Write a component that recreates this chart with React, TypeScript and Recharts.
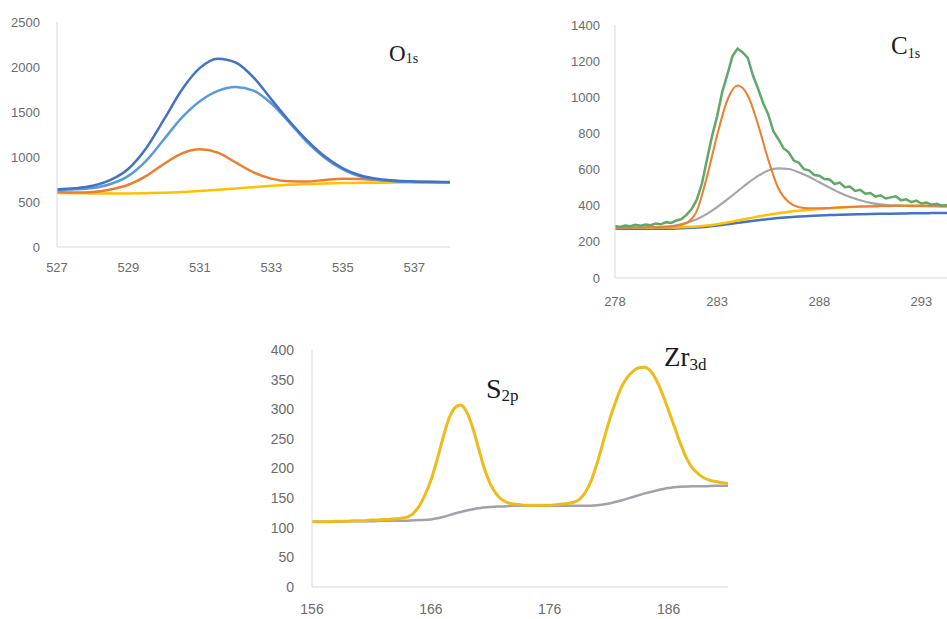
import { CartesianGrid, Line, LineChart, XAxis, YAxis } from "recharts";

// ---- O 1s panel ----
const o1sX = [
  527, 527.5, 528, 528.5, 529, 529.5, 530, 530.5, 531, 531.5, 532, 532.5, 533,
  533.5, 534, 534.5, 535, 535.5, 536, 536.5, 537, 537.5, 538,
];
const o1sEnvelope = [
  640, 652, 680, 745, 870, 1100, 1420, 1750, 1990, 2093, 2050, 1885, 1640, 1400,
  1185, 1005, 875, 795, 755, 737, 729, 725, 722,
];
const o1sPeakB = [
  635, 641, 656, 700, 790, 960, 1200, 1440, 1620, 1735, 1778, 1738, 1595, 1385,
  1165, 990, 862, 782, 746, 729, 723, 720, 718,
];
const o1sPeakA = [
  612, 606, 612, 640, 692, 790, 925, 1040, 1085, 1048, 940, 830, 760, 730, 728,
  745, 758, 755, 742, 732, 726, 722, 720,
];
const o1sBackground = [
  600, 598, 595, 594, 595, 598, 603, 610, 622, 635, 650, 665, 680, 692, 700, 706,
  710, 713, 715, 716, 716, 717, 718,
];
const o1sXTicks = [527, 529, 531, 533, 535, 537];
const o1sYTicks = [0, 500, 1000, 1500, 2000, 2500];

// ---- C 1s panel ----
const c1sRawX = [
  278, 278.25, 278.5, 278.75, 279, 279.25, 279.5, 279.75, 280, 280.25, 280.5,
  280.75, 281, 281.25, 281.5, 281.75, 282, 282.25, 282.5, 282.75, 283, 283.25,
  283.5, 283.75, 284, 284.25, 284.5, 284.75, 285, 285.25, 285.5, 285.75, 286,
  286.25, 286.5, 286.75, 287, 287.25, 287.5, 287.75, 288, 288.25, 288.5, 288.75,
  289, 289.25, 289.5, 289.75, 290, 290.25, 290.5, 290.75, 291, 291.25, 291.5,
  291.75, 292, 292.25, 292.5, 292.75, 293, 293.25, 293.5, 293.75, 294, 294.25,
];
const c1sRaw = [
  288, 282, 290, 286, 294, 289, 296, 292, 301, 297, 309, 305, 318, 326, 349,
  381, 432, 520, 655, 785, 895, 1030, 1125, 1228, 1270, 1248, 1218, 1122, 1048,
  968, 905, 812, 768, 718, 695, 650, 638, 602, 596, 570, 566, 548, 545, 520,
  528, 502, 506, 482, 488, 466, 470, 450, 458, 440, 446, 452, 430, 436, 420,
  428, 412, 418, 405, 410, 400, 404,
];
const c1sX = [
  278, 278.5, 279, 279.5, 280, 280.5, 281, 281.5, 282, 282.5, 283, 283.5, 284,
  284.5, 285, 285.5, 286, 286.5, 287, 287.5, 288, 288.5, 289, 289.5, 290, 290.5,
  291, 291.5, 292, 292.5, 293, 293.5, 294, 294.25,
];
const c1sPeakA = [
  278, 278, 279, 280, 281, 283, 288, 305, 370, 560, 790, 985, 1065, 1010, 850,
  655, 495, 420, 392, 386, 386, 388, 390, 393, 395, 397, 398, 399, 400, 400, 400,
  400, 400, 400,
];
const c1sPeakB = [
  276, 277, 278, 280, 282, 285, 292, 305, 325, 355, 392, 435, 480, 525, 565, 595,
  607, 603, 585, 560, 530, 500, 472, 448, 430, 416, 407, 402, 400, 398, 397, 396,
  395, 395,
];
const c1sShirley = [
  278, 278, 278, 278, 279, 279, 280, 282, 285, 290, 298, 307, 318, 329, 340, 350,
  358, 366, 372, 377, 382, 386, 390, 393, 395, 397, 398, 399, 400, 400, 400, 400,
  400, 400,
];
const c1sBaseline = [
  272, 272, 272, 272, 273, 273, 274, 276, 279, 284, 290, 297, 305, 313, 320, 326,
  332, 336, 340, 343, 346, 348, 350, 352, 353, 354, 355, 356, 357, 358, 358, 359,
  360, 360,
];
const c1sXTicks = [278, 283, 288, 293];
const c1sYTicks = [0, 200, 400, 600, 800, 1000, 1200, 1400];

// ---- S 2p / Zr 3d panel ----
const szX = [
  156, 156.5, 157, 157.5, 158, 158.5, 159, 159.5, 160, 160.5, 161, 161.5, 162,
  162.5, 163, 163.5, 164, 164.5, 165, 165.5, 166, 166.5, 167, 167.5, 168, 168.5,
  169, 169.5, 170, 170.5, 171, 171.5, 172, 172.5, 173, 173.5, 174, 174.5, 175,
  175.5, 176, 176.5, 177, 177.5, 178, 178.5, 179, 179.5, 180, 180.5, 181, 181.5,
  182, 182.5, 183, 183.5, 184, 184.5, 185, 185.5, 186, 186.5, 187, 187.5, 188,
  188.5, 189, 189.5, 190, 190.5, 191,
];
const szSpectrum = [
  110, 110, 110, 110, 111, 111, 111, 112, 112, 112, 113, 113, 114, 114, 115, 116,
  118, 124, 136, 155, 180, 213, 250, 283, 302, 307, 296, 270, 235, 200, 174, 157,
  147, 142, 140, 139, 138, 138, 138, 138, 138, 139, 140, 141, 143, 148, 160, 180,
  210, 245, 280, 310, 336, 353, 364, 370, 371, 364, 348, 325, 298, 270, 242, 218,
  201, 191, 184, 180, 178, 176, 175,
];
const szBgX = [
  156, 157, 158, 159, 160, 161, 162, 163, 164, 165, 166, 167, 168, 169, 170, 171,
  172, 173, 174, 175, 176, 177, 178, 179, 180, 181, 182, 183, 184, 185, 186, 187,
  188, 189, 190, 191,
];
const szBackground = [
  110, 110, 110, 111, 111, 111, 112, 112, 112, 113, 114, 118, 124, 129, 133, 135,
  136, 137, 137, 137, 137, 137, 137, 137, 138, 141, 146, 152, 158, 163, 167, 169,
  170, 170, 171, 171,
];
const szXTicks = [156, 166, 176, 186];
const szYTicks = [0, 50, 100, 150, 200, 250, 300, 350, 400];

const zip = (xs: number[], ys: number[]) => xs.map((x, i) => ({ x, y: ys[i] }));

const axisColor = "#d9d9d9";
const tickStyle = { fill: "#6b6b6b", fontFamily: "Liberation Sans, Arial, sans-serif" };

interface PanelProps {
  left: number;
  top: number;
  width: number;
  height: number;
  yAxisWidth: number;
  xAxisHeight: number;
  marginTop: number;
  marginRight: number;
  xDomain: [number, number];
  yDomain: [number, number];
  xTicks: number[];
  yTicks: number[];
  fontSize: number;
  yTickMargin: number;
  xTickMargin: number;
  series: { data: { x: number; y: number }[]; color: string; width: number; curve?: "monotone" | "linear" }[];
}

function Panel(p: PanelProps) {
  return (
    <div style={{ position: "absolute", left: p.left, top: p.top }}>
      <LineChart
        width={p.width}
        height={p.height}
        margin={{ top: p.marginTop, right: p.marginRight, left: 0, bottom: 0 }}
      >
        <CartesianGrid horizontal={false} vertical={false} />
        <XAxis
          type="number"
          dataKey="x"
          domain={p.xDomain}
          ticks={p.xTicks}
          interval={0}
          allowDataOverflow
          height={p.xAxisHeight}
          tickSize={0}
          tickMargin={p.xTickMargin}
          stroke={axisColor}
          tick={{ ...tickStyle, fontSize: p.fontSize }}
        />
        <YAxis
          type="number"
          dataKey="y"
          domain={p.yDomain}
          ticks={p.yTicks}
          interval={0}
          width={p.yAxisWidth}
          tickSize={0}
          tickMargin={p.yTickMargin}
          stroke={axisColor}
          tick={{ ...tickStyle, fontSize: p.fontSize }}
        />
        {p.series.map((s, i) => (
          <Line
            key={i}
            data={s.data}
            dataKey="y"
            type={s.curve ?? "monotone"}
            stroke={s.color}
            strokeWidth={s.width}
            dot={false}
            activeDot={false}
            isAnimationActive={false}
          />
        ))}
      </LineChart>
    </div>
  );
}

const serif = "Liberation Serif, Times New Roman, serif";

export default function App() {
  return (
    <div
      style={{
        position: "absolute",
        left: 0,
        top: 0,
        width: 947,
        height: 619,
        background: "#fff",
        overflow: "hidden",
      }}
    >
      <Panel
        left={0}
        top={0}
        width={460}
        height={280}
        yAxisWidth={57}
        xAxisHeight={33}
        marginTop={22}
        marginRight={10}
        xDomain={[527, 538]}
        yDomain={[0, 2500]}
        xTicks={o1sXTicks}
        yTicks={o1sYTicks}
        fontSize={13}
        yTickMargin={17}
        xTickMargin={16}
        series={[
          { data: zip(o1sX, o1sBackground), color: "#FFC000", width: 2.5 },
          { data: zip(o1sX, o1sPeakA), color: "#ED7D31", width: 2.5 },
          { data: zip(o1sX, o1sPeakB), color: "#5B9BD5", width: 2.5 },
          { data: zip(o1sX, o1sEnvelope), color: "#4472C4", width: 2.5 },
        ]}
      />
      <Panel
        left={560}
        top={0}
        width={387}
        height={310}
        yAxisWidth={55}
        xAxisHeight={32}
        marginTop={25}
        marginRight={0}
        xDomain={[278, 294.25]}
        yDomain={[0, 1400]}
        xTicks={c1sXTicks}
        yTicks={c1sYTicks}
        fontSize={13}
        yTickMargin={15}
        xTickMargin={19}
        series={[
          { data: zip(c1sX, c1sBaseline), color: "#4472C4", width: 2.5 },
          { data: zip(c1sX, c1sShirley), color: "#FFC000", width: 2.5 },
          { data: zip(c1sX, c1sPeakB), color: "#A5A5A5", width: 2.2 },
          { data: zip(c1sX, c1sPeakA), color: "#ED7D31", width: 2 },
          { data: zip(c1sRawX, c1sRaw), color: "#5FA867", width: 2.5, curve: "linear" },
        ]}
      />
      <Panel
        left={250}
        top={330}
        width={480}
        height={289}
        yAxisWidth={62}
        xAxisHeight={32}
        marginTop={20}
        marginRight={2}
        xDomain={[156, 191]}
        yDomain={[0, 400]}
        xTicks={szXTicks}
        yTicks={szYTicks}
        fontSize={14}
        yTickMargin={18}
        xTickMargin={17}
        series={[
          { data: zip(szBgX, szBackground), color: "#A3A0A8", width: 2.5 },
          { data: zip(szX, szSpectrum), color: "#EDBB1A", width: 3 },
        ]}
      />
      <svg
        width={947}
        height={619}
        style={{ position: "absolute", left: 0, top: 0, pointerEvents: "none" }}
      >
        <text x={389} y={61} fontFamily={serif} fontSize={23} fill="#1a1a1a">
          O
          <tspan fontSize={14} dy={2}>
            1s
          </tspan>
        </text>
        <text x={891} y={54} fontFamily={serif} fontSize={25} fill="#1a1a1a">
          C
          <tspan fontSize={14} dy={4}>
            1s
          </tspan>
        </text>
        <text x={486} y={398} fontFamily={serif} fontSize={28} fill="#1a1a1a">
          S
          <tspan fontSize={17} dy={3}>
            2p
          </tspan>
        </text>
        <text x={664} y={366} fontFamily={serif} fontSize={27} fill="#1a1a1a">
          Zr
          <tspan fontSize={17} dy={4}>
            3d
          </tspan>
        </text>
      </svg>
    </div>
  );
}
